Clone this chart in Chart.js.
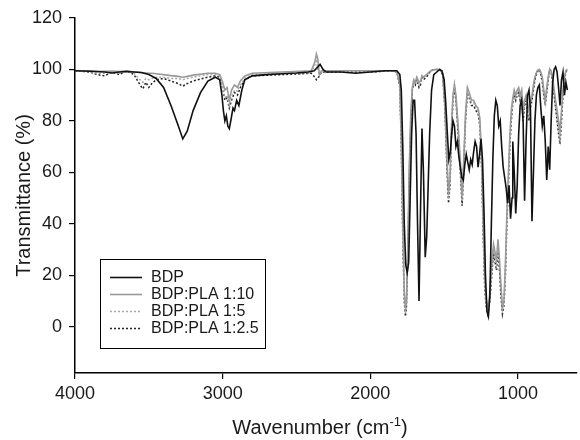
<!DOCTYPE html>
<html>
<head>
<meta charset="utf-8">
<script src="https://cdn.jsdelivr.net/npm/chart.js@4.4.1/dist/chart.umd.min.js"></script>
<style>
  html, body { margin: 0; padding: 0; background: #fff; }
  #wrap { width: 580px; height: 440px; }
</style>
</head>
<body>
<div id="wrap"><canvas id="ftir"></canvas></div>
<script>
// FTIR spectra, wavenumber (cm-1) vs transmittance (%)
const seriesLabels = ['BDP', 'BDP:PLA 1:10', 'BDP:PLA 1:5', 'BDP:PLA 1:2.5'];
const xTicks = [4000, 3000, 2000, 1000];
const yTicks = [0, 20, 40, 60, 80, 100, 120];

const bdpWn = [
    4000, 3900, 3800, 3750, 3700, 3650, 3600, 3550, 3500, 3450,
    3400, 3350, 3300, 3270, 3240, 3200, 3150, 3100, 3050, 3020,
    3005, 2995, 2985, 2975, 2965, 2955, 2945, 2930, 2920, 2905,
    2890, 2870, 2850, 2800, 2700, 2600, 2500, 2420, 2380, 2355,
    2340, 2320, 2300, 2200, 2100, 2000, 1900, 1820, 1800, 1790,
    1780, 1770, 1760, 1750, 1740, 1730, 1720, 1710, 1700, 1690,
    1680, 1670, 1660, 1650, 1640, 1628, 1618, 1608, 1598, 1585,
    1570, 1550, 1530, 1515, 1500, 1490, 1478, 1468, 1458, 1450,
    1440, 1430, 1420, 1410, 1400, 1390, 1380, 1370, 1360, 1350,
    1340, 1330, 1320, 1310, 1300, 1290, 1280, 1270, 1260, 1250,
    1240, 1230, 1220, 1210, 1200, 1190, 1180, 1170, 1160, 1150,
    1140, 1130, 1120, 1110, 1100, 1090, 1080, 1070, 1060, 1050,
    1040, 1035, 1025, 1015, 1005, 995, 985, 975, 965, 955,
    945, 935, 925, 915, 905, 895, 885, 875, 865, 855,
    845, 835, 825, 815, 805, 795, 785, 775, 765, 755,
    745, 735, 725, 715, 705, 695, 685, 675, 665
];
const bdpT = [
    99.5, 99.3, 99, 98.6, 99, 99.2, 99, 98.8, 98, 96.5,
    93, 86, 78, 73, 76, 84, 91, 95.5, 97, 96,
    90, 84, 80, 82, 78, 77, 80, 85, 84, 88,
    86, 92, 96, 97.5, 98, 98.3, 98.6, 99, 99.5, 101,
    102, 100, 99, 99, 98.5, 99, 99.5, 99.5, 98, 92,
    70, 40, 24, 21, 25, 50, 75, 88, 88, 75,
    40, 10, 45, 77, 60, 27, 35, 55, 75, 92,
    98, 99, 100, 99.5, 96, 88, 75, 65, 68, 74,
    80, 78, 70, 72, 66, 62, 58, 57, 63, 67,
    64, 61, 65, 63, 68, 72, 70, 62, 67, 73,
    65, 45, 20, 6, 4, 12, 40, 65, 82, 88,
    86, 78, 80, 70, 62, 58, 54, 48, 55, 42,
    50, 72, 60, 44, 55, 75, 86, 88, 80, 49,
    72, 90, 92, 84, 41, 60, 80, 90, 93, 94,
    85, 78, 82, 72, 57, 70, 61, 80, 95, 100,
    101, 99, 93, 86, 96, 99, 90, 95, 92
];

// the three blends share one wavenumber grid
const blendWn = [
    4000, 3900, 3850, 3800, 3750, 3700, 3650, 3600, 3560, 3540,
    3520, 3500, 3480, 3450, 3400, 3350, 3300, 3270, 3240, 3200,
    3100, 3050, 3020, 3000, 2985, 2970, 2955, 2940, 2920, 2900,
    2880, 2850, 2800, 2600, 2400, 2375, 2365, 2355, 2345, 2330,
    2300, 2200, 2000, 1850, 1820, 1800, 1790, 1780, 1770, 1762,
    1755, 1745, 1735, 1725, 1715, 1705, 1695, 1685, 1670, 1660,
    1650, 1640, 1620, 1590, 1560, 1530, 1510, 1495, 1480, 1470,
    1460, 1450, 1440, 1430, 1420, 1405, 1390, 1378, 1368, 1355,
    1342, 1330, 1315, 1300, 1285, 1270, 1258, 1245, 1235, 1225,
    1215, 1205, 1195, 1185, 1175, 1165, 1155, 1145, 1135, 1125,
    1115, 1105, 1095, 1085, 1075, 1065, 1055, 1045, 1035, 1025,
    1015, 1005, 995, 985, 975, 965, 955, 945, 935, 925,
    915, 905, 895, 885, 870, 855, 845, 835, 825, 815,
    805, 795, 785, 775, 765, 755, 745, 735, 725, 715,
    705, 695, 685, 675, 665
];
const pla10T = [
    99.5, 99.5, 99.3, 99.3, 99.4, 99.2, 99.5, 99, 98.8, 98.6,
    98.6, 98.5, 98.5, 98.3, 98, 97.6, 97.3, 97, 97.3, 97.8,
    98.5, 98.5, 98, 95, 92, 93, 88, 92, 94, 93,
    95.5, 97.5, 98.5, 99, 99.5, 103, 106, 104, 98, 99.5,
    99.5, 99.5, 99.5, 99.5, 99, 94, 73, 40, 14, 7,
    10, 34, 64, 84, 93, 96, 95, 97, 95, 95.5,
    97.5, 97, 98, 99.5, 100, 100, 98.5, 87, 64, 52,
    58, 78, 90, 94, 90, 78, 64, 51, 64, 83,
    93, 91, 88, 88, 86, 85, 81, 64, 40, 20,
    11, 7, 10, 18, 26, 32, 29, 26, 34, 26,
    16, 7, 10, 24, 44, 59, 74, 84, 89, 92,
    90, 92, 93, 90, 92, 84, 88, 90, 87, 84,
    88, 90, 94, 97, 99.5, 100, 99, 97, 92, 88,
    93, 97, 100, 99.5, 97, 92, 88, 84, 80, 76,
    84, 92, 97, 99.5, 100
];
const pla5T = [
    99.5, 99.2, 98.5, 98.5, 99, 98.5, 99.5, 98.5, 96, 95,
    96.5, 96, 96.5, 97, 97, 96.5, 96.5, 96, 96.5, 97,
    98, 98, 97.5, 93, 89, 90, 86, 89.5, 92, 91.5,
    94, 96.5, 98, 98.5, 98.5, 102, 104, 100, 98, 99,
    99.5, 99.5, 99.5, 99.5, 99, 94, 72, 38, 12, 5,
    9, 32, 62, 82, 93, 96, 95, 96.5, 94, 95,
    97.5, 97, 97.5, 99.5, 100, 100, 98.5, 86, 62, 50,
    57, 77, 89, 94, 89, 77, 62, 49, 62, 82,
    92, 90, 87, 87, 85, 84, 80, 62, 37, 17,
    9, 6, 9, 16, 24, 30, 27, 24, 32, 24,
    14, 6, 9, 22, 42, 57, 72, 82, 88, 91,
    89, 91, 92, 89, 91, 82, 87, 89, 85, 82,
    86, 89, 93, 97, 99.5, 100, 98.5, 96, 91, 87,
    92, 97, 100, 99, 96, 91, 86, 82, 77, 73,
    82, 91, 97, 99.5, 100
];
const pla25T = [
    99.5, 99, 98, 97.5, 99, 98, 99.5, 98, 94, 92.5,
    95, 93, 94.5, 96, 96.5, 95.5, 94.5, 93.5, 94.5, 95.5,
    97, 97.5, 97, 93, 88, 89, 85, 88, 91, 90,
    93, 96, 97.5, 98, 98.5, 97, 96, 96.5, 97.5, 99,
    99, 99, 99, 99.5, 99, 93, 70, 35, 10, 4,
    8, 30, 60, 80, 92, 95, 94, 96, 93, 94,
    97, 96, 97, 99.5, 100, 100, 98, 85, 60, 48,
    55, 75, 88, 93, 88, 75, 60, 47, 60, 80,
    91, 89, 86, 86, 84, 83, 78, 60, 35, 15,
    8, 5, 8, 14, 22, 28, 25, 22, 30, 22,
    12, 5, 8, 20, 40, 55, 70, 80, 87, 90,
    88, 90, 91, 88, 90, 80, 86, 88, 84, 80,
    85, 88, 92, 96, 99, 100, 98, 95, 90, 86,
    91, 96, 100, 99, 95, 90, 85, 80, 75, 71,
    80, 90, 96, 99, 100
];

const FONT = "'Liberation Sans', Arial, Helvetica, sans-serif";
const INK = '#1a1a1a';

function toPoints(xs, ys) {
    return xs.map((x, i) => ({ x: x, y: ys[i] }));
}

const styles = [
    { color: '#111111', width: 1.6, dash: [] },
    { color: '#9a9a9a', width: 1.6, dash: [] },
    { color: '#a8a8a8', width: 1.5, dash: [2, 2] },
    { color: '#222222', width: 1.5, dash: [2, 2] }
];
const series = [
    toPoints(bdpWn, bdpT),
    toPoints(blendWn, pla10T),
    toPoints(blendWn, pla5T),
    toPoints(blendWn, pla25T)
];

// legend box inside the plot, plus the x title with a superscript
const extras = {
    id: 'extras',
    afterDraw(chart) {
        const ctx = chart.ctx;
        ctx.save();
        ctx.strokeStyle = '#000';
        ctx.lineWidth = 1;
        ctx.strokeRect(100.5, 259.5, 165, 89);
        ctx.font = '16px ' + FONT;
        ctx.textBaseline = 'middle';
        ctx.textAlign = 'left';
        seriesLabels.forEach((lab, i) => {
            const y = 277 + i * 17;
            ctx.beginPath();
            ctx.strokeStyle = styles[i].color;
            ctx.lineWidth = styles[i].width;
            ctx.setLineDash(styles[i].dash);
            ctx.moveTo(110, y + 0.5);
            ctx.lineTo(142, y + 0.5);
            ctx.stroke();
            ctx.setLineDash([]);
            ctx.fillStyle = INK;
            ctx.fillText(lab, 151, y + 1);
        });

        // Wavenumber (cm-1)
        const main = '20px ' + FONT, sup = '13px ' + FONT;
        const a = 'Wavenumber (cm', b = '-1', c = ')';
        ctx.font = main;
        const wa = ctx.measureText(a).width, wc = ctx.measureText(c).width;
        ctx.font = sup;
        const wb = ctx.measureText(b).width;
        let x = 320 - (wa + wb + wc) / 2;
        const base = 434;
        ctx.textBaseline = 'alphabetic';
        ctx.fillStyle = INK;
        ctx.font = main;
        ctx.fillText(a, x, base);
        x += wa;
        ctx.font = sup;
        ctx.fillText(b, x, base - 8);
        x += wb;
        ctx.font = main;
        ctx.fillText(c, x, base);
        ctx.restore();
    }
};

new Chart(document.getElementById('ftir'), {
    type: 'line',
    data: {
        datasets: series.map((pts, i) => ({
            label: seriesLabels[i],
            data: pts,
            borderColor: styles[i].color,
            borderWidth: styles[i].width,
            borderDash: styles[i].dash,
            pointRadius: 0,
            tension: 0,
            fill: false
        }))
    },
    options: {
        responsive: true,
        maintainAspectRatio: false,
        animation: false,
        layout: { padding: { top: 18, right: 3, left: 0, bottom: 0 } },
        plugins: {
            legend: { display: false },
            tooltip: { enabled: false }
        },
        scales: {
            x: {
                type: 'linear',
                reverse: true,
                min: 600,
                max: 4000,
                afterBuildTicks: s => { s.ticks = xTicks.map(v => ({ value: v })); },
                afterFit: s => { s.height = 67; },
                grid: { drawOnChartArea: false, tickLength: 6, color: '#000', lineWidth: 1.2 },
                border: { color: '#000', width: 1.5 },
                ticks: {
                    font: { size: 18, family: FONT }, color: INK, padding: 4, maxRotation: 0,
                    callback: v => String(v)
                }
            },
            y: {
                min: -18,
                max: 120,
                afterBuildTicks: s => { s.ticks = yTicks.map(v => ({ value: v })); },
                afterFit: s => { s.width = 75; },
                grid: { drawOnChartArea: false, tickLength: 6, color: '#000', lineWidth: 1.2 },
                border: { color: '#000', width: 1.5 },
                ticks: { font: { size: 18, family: FONT }, color: INK, padding: 7, callback: v => String(v) },
                title: {
                    display: true,
                    text: 'Transmittance (%)',
                    font: { size: 20, family: FONT },
                    color: INK,
                    padding: { top: 12, bottom: 0 }
                }
            }
        }
    },
    plugins: [extras]
});
</script>
</body>
</html>
